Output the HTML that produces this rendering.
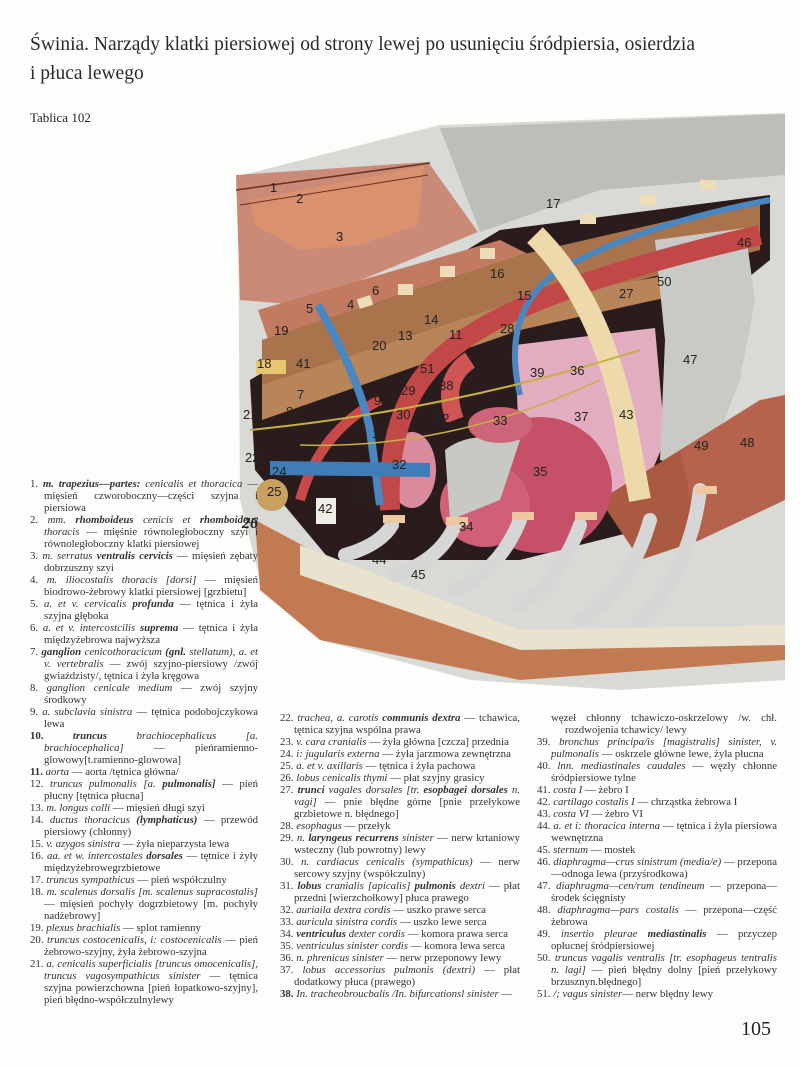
<!DOCTYPE html>
<html lang="pl"><head><meta charset="utf-8"><style>
body{margin:0;background:#fff;}
#pg{position:relative;width:800px;height:1067px;overflow:hidden;background:#fdfdfb;font-family:"Liberation Serif",serif;color:#222;}
.t{position:absolute;left:30px;top:30px;font-size:19.5px;line-height:29px;color:#2a2a2a;}
.col{position:absolute;font-size:10.8px;line-height:12px;color:#333;hyphens:auto;-webkit-hyphens:auto;}
.col div{padding-left:14px;text-indent:-14px;text-align:justify;}
.col i{font-style:italic}
svg{position:absolute;left:0;top:0}
.lb{font-family:"Liberation Sans",sans-serif;font-size:13px;fill:#222;}
</style></head><body><div id="pg">
<div class="t">Świnia. Narządy klatki piersiowej od strony lewej po usunięciu śródpiersia, osierdzia<br>i płuca lewego</div>
<div style="position:absolute;left:30px;top:110px;font-size:13px;">Tablica 102</div>
<svg width="800" height="1067" viewBox="0 0 800 1067">
<path d="M238,176 L440,125 L785,113 L785,680 L620,690 L470,680 L320,640 L260,580 L240,500 Z" fill="#d9d9d5"/>
<path d="M440,128 L785,114 L785,175 L600,190 L480,232 Z" fill="#bdbdb9"/>
<path d="M250,380 L500,230 L770,195 L770,260 L720,300 L700,470 L640,530 L520,560 L330,560 L255,470 Z" fill="#2a1c1c"/>
<path d="M236,175 L428,162 L478,232 L300,305 L240,300 Z" fill="#c98a78"/>
<path d="M250,200 L424,166 L418,225 L360,245 L300,250 L255,225 Z" fill="#d9916e"/>
<path d="M236,190 L430,163" stroke="#6a3020" stroke-width="1.5"/>
<path d="M240,205 L428,175" stroke="#6a3020" stroke-width="1"/>
<path d="M258,310 L500,240 L530,255 L270,345 Z" fill="#c27a60"/>
<path d="M262,340 L520,255 L760,200 L760,250 L600,290 L440,340 L262,420 Z" fill="#a9744c"/>
<path d="M262,385 L520,300 L700,270 L700,290 L520,330 L262,420 Z" fill="#b8845a"/>
<g fill="#ecdcb8"><rect x="358" y="297" width="14" height="10" transform="rotate(-18 365 302)"/><rect x="398" y="284" width="15" height="11"/><rect x="440" y="266" width="15" height="11"/><rect x="480" y="248" width="15" height="11"/><rect x="580" y="214" width="16" height="10"/><rect x="640" y="195" width="16" height="10"/><rect x="700" y="180" width="16" height="10"/></g>
<path d="M515,345 L655,328 L665,440 L640,500 L560,520 L520,470 Z" fill="#e2adc0"/>
<path d="M655,240 L745,228 L755,300 L740,380 L705,470 L660,460 L665,340 Z" fill="#c9c9c6"/>
<path d="M680,450 L760,400 L785,395 L785,500 L700,540 L660,540 Z" fill="#b5634c"/>
<path d="M600,500 L680,450 L700,540 L640,560 Z" fill="#a95a40"/>
<ellipse cx="540" cy="485" rx="72" ry="68" fill="#c65068"/>
<ellipse cx="485" cy="505" rx="45" ry="42" fill="#d06078"/>
<path d="M445,450 Q470,430 520,440 L500,500 L450,520 Z" fill="#c8c8c4"/>
<ellipse cx="500" cy="425" rx="32" ry="18" fill="#cd6478"/>
<ellipse cx="412" cy="470" rx="24" ry="38" fill="#d98a9c"/>
<path d="M390,510 Q385,400 450,350 Q520,290 760,235" stroke="#c24848" stroke-width="20" fill="none"/>
<path d="M455,420 Q440,380 470,360" stroke="#cf5555" stroke-width="18" fill="none"/>
<path d="M300,500 Q320,430 380,400" stroke="#c94848" stroke-width="10" fill="none"/>
<path d="M318,305 Q360,380 370,430 L380,505" stroke="#4a86c0" stroke-width="8" fill="none"/>
<path d="M270,468 L430,470" stroke="#3f7db8" stroke-width="14" fill="none"/>
<path d="M520,395 Q500,310 560,270 Q640,225 770,200" stroke="#4a86c0" stroke-width="6" fill="none"/>
<path d="M535,235 Q600,300 625,420 L640,500" stroke="#eed9aa" stroke-width="22" fill="none"/>
<path d="M250,430 Q450,410 640,350" stroke="#c8b040" stroke-width="2" fill="none"/>
<path d="M300,445 Q450,450 600,380" stroke="#c8b040" stroke-width="1.5" fill="none"/>
<path d="M255,520 L330,560 L520,640 L785,640 L785,660 L520,680 L320,640 L260,590 Z" fill="#c27a52"/>
<path d="M300,545 L520,630 L785,625 L785,645 L520,650 L300,575 Z" fill="#e9e2cf"/>
<g stroke="#d6d6d6" stroke-width="14" fill="none" stroke-linecap="round">
<path d="M392,525 Q380,545 345,555"/><path d="M455,525 Q440,560 395,575"/><path d="M520,520 Q500,570 455,590"/><path d="M580,525 Q560,580 520,605"/><path d="M650,520 Q630,590 580,620"/><path d="M700,490 Q690,570 640,620"/></g>
<g fill="#edc8a0"><rect x="383" y="515" width="22" height="8"/><rect x="446" y="517" width="22" height="8"/><rect x="512" y="512" width="22" height="8"/><rect x="575" y="512" width="22" height="8"/><rect x="695" y="486" width="22" height="8"/></g>
<rect x="316" y="498" width="20" height="26" fill="#f0eee6"/>
<circle cx="272" cy="495" r="16" fill="#c8a060"/>
<rect x="256" y="360" width="30" height="14" fill="#e6c670"/>
<g class="lb">
<text x="270" y="192">1</text><text x="296" y="203">2</text><text x="336" y="241">3</text><text x="546" y="208">17</text><text x="737" y="247">46</text>
<text x="490" y="278">16</text><text x="517" y="300">15</text><text x="619" y="298">27</text><text x="657" y="286">50</text>
<text x="306" y="313">5</text><text x="372" y="295">6</text><text x="347" y="309">4</text><text x="274" y="335">19</text><text x="398" y="340">13</text>
<text x="424" y="324">14</text><text x="500" y="333">28</text><text x="546" y="339">40</text><text x="372" y="350">20</text><text x="449" y="339">11</text>
<text x="257" y="368">18</text><text x="296" y="368">41</text><text x="420" y="373">51</text><text x="683" y="364">47</text><text x="530" y="377">39</text>
<text x="570" y="375">36</text><text x="439" y="390">38</text><text x="297" y="399">7</text><text x="401" y="395">29</text><text x="374" y="405">9</text>
<text x="286" y="416">8</text><text x="396" y="419">30</text><text x="435" y="423">12</text><text x="493" y="425">33</text><text x="574" y="421">37</text>
<text x="619" y="419">43</text><text x="243" y="419">21</text><text x="372" y="438">10</text><text x="694" y="450">49</text><text x="740" y="447">48</text>
<text x="245" y="462">22</text><text x="392" y="469">32</text><text x="533" y="476">35</text><text x="272" y="476">24</text><text x="359" y="485">23</text>
<text x="267" y="496">25</text><text x="357" y="502">31</text><text x="318" y="513">42</text><text x="459" y="531">34</text><text x="372" y="564">44</text><text x="411" y="579">45</text>
</g>
<text x="242" y="528" font-family="Liberation Serif,serif" font-style="italic" font-weight="bold" font-size="16" fill="#222">26</text>
</svg>
<div class="col" style="left:30px;top:478px;width:228px;">
<div>1. <i><b>m. trapezius—partes:</b> cenicalis et thoracica</i> — mięsień czworoboczny—części szyjna i piersiowa</div>
<div>2. <i>mm. <b>rhomboideus</b> cenicis et <b>rhomboideus</b> thoracis</i> — mięśnie równoległoboczny szyi i równoległoboczny klatki piersiowej</div>
<div>3. <i>m. serratus <b>ventralis cervicis</b></i> — mięsień zębaty dobrzuszny szyi</div>
<div>4. <i>m. iliocostalis thoracis [dorsi]</i> — mięsień biodrowo-żebrowy klatki piersiowej [grzbietu]</div>
<div>5. <i>a. et v. cervicalis <b>profunda</b></i> — tętnica i żyła szyjna głęboka</div>
<div>6. <i>a. et v. intercostcilis <b>suprema</b></i> — tętnica i żyła międzyżebrowa najwyższa</div>
<div>7. <i><b>ganglion</b> cenicothoracicum <b>(gnl.</b> stellatum), a. et v. vertebralis</i> — zwój szyjno-piersiowy /zwój gwiaździsty/, tętnica i żyła kręgowa</div>
<div>8. <i>ganglion cenicale medium</i> — zwój szyjny środkowy</div>
<div>9. <i>a. subclavia sinistra</i> — tętnica podobojczykowa lewa</div>
<div><b>10.</b> <i><b>truncus</b> brachiocephalicus [a. brachiocephalica]</i> — pieńramienno-glowowy[t.ramienno-glowowa]</div>
<div><b>11.</b> <i>aorta</i> — aorta /tętnica główna/</div>
<div>12. <i>truncus pulmonalis [a. <b>pulmonalis]</b></i> — pień płucny [tętnica płucna]</div>
<div>13. <i>m. longus colli</i> — mięsień długi szyi</div>
<div>14. <i>ductus thoracicus <b>(lymphaticus)</b></i> — przewód piersiowy (chłonny)</div>
<div>15. <i>v. azygos sinistra</i> — żyła nieparzysta lewa</div>
<div>16. <i>aa. et w. intercostales <b>dorsales</b></i> — tętnice i żyły międzyżebrowegrzbietowe</div>
<div>17. <i>truncus sympathicus</i> — pień współczulny</div>
<div>18. <i>m. scalenus dorsalis [m. scalenus supracostalis]</i> — mięsień pochyły dogrzbietowy [m. pochyły nadżebrowy]</div>
<div>19. <i>plexus brachialis</i> — splot ramienny</div>
<div>20. <i>truncus costocenicalis, i: costocenicalis</i> — pień żebrowo-szyjny, żyła żebrowo-szyjna</div>
<div>21. <i>a. cenicalis superficialis [truncus omocenicalis], truncus vagosympathicus sinister</i> — tętnica szyjna powierzchowna [pień łopatkowo-szyjny], pień błędno-współczulnylewy</div>
</div>
<div class="col" style="left:280px;top:712px;width:240px;">
<div>22. <i>trachea, a. carotis <b>communis dextra</b></i> — tchawica, tętnica szyjna wspólna prawa</div>
<div>23. <i>v. cara cranialis</i> — żyła główna [czcza] przednia</div>
<div>24. <i>i: jugularis externa</i> — żyła jarzmowa zewnętrzna</div>
<div>25. <i>a. et v. axillaris</i> — tętnica i żyła pachowa</div>
<div>26. <i>lobus cenicalis thymi</i> — płat szyjny grasicy</div>
<div>27. <i><b>trunci</b> vagales dorsales [tr. <b>esopbagei dorsales</b> n. vagi]</i> — pnie błędne górne [pnie przełykowe grzbietowe n. błędnego]</div>
<div>28. <i>esophagus</i> — przełyk</div>
<div>29. <i>n. <b>laryngeus recurrens</b> sinister</i> — nerw krtaniowy wsteczny (lub powrotny) lewy</div>
<div>30. <i>n. cardiacus cenicalis (sympathicus)</i> — nerw sercowy szyjny (współczulny)</div>
<div>31. <i><b>lobus</b> cranialis [apicalis] <b>pulmonis</b> dextri</i> — płat przedni [wierzchołkowy] płuca prawego</div>
<div>32. <i>auriaila dextra cordis</i> — uszko prawe serca</div>
<div>33. <i>auricula sinistra cordis</i> — uszko lewe serca</div>
<div>34. <i><b>ventriculus</b> dexter cordis</i> — komora prawa serca</div>
<div>35. <i>ventriculus sinister cordis</i> — komora lewa serca</div>
<div>36. <i>n. phrenicus sinister</i> — nerw przeponowy lewy</div>
<div>37. <i>lobus accessorius pulmonis (dextri)</i> — płat dodatkowy płuca (prawego)</div>
<div><b>38.</b> <i>In. tracheobroucbalis /In. bifurcationsl sinister</i> —</div>
</div>
<div class="col" style="left:537px;top:712px;width:240px;">
<div style="padding-left:28px">węzeł chłonny tchawiczo-oskrzelowy /w. chł. rozdwojenia tchawicy/ lewy</div>
<div>39. <i>bronchus principa/is [magistralis] sinister, v. pulmonalis</i> — oskrzele główne lewe, żyła płucna</div>
<div>40. <i>lnn. mediastinales caudales</i> — węzły chłonne śródpiersiowe tylne</div>
<div>41. <i>costa I</i> — żebro I</div>
<div>42. <i>cartilago costalis I</i> — chrząstka żebrowa I</div>
<div>43. <i>costa VI</i> — żebro VI</div>
<div>44. <i>a. et i: thoracica interna</i> — tętnica i żyła piersiowa wewnętrzna</div>
<div>45. <i>sternum</i> — mostek</div>
<div>46. <i>diaphragma—crus sinistrum (media/e)</i> — przepona—odnoga lewa (przyśrodkowa)</div>
<div>47. <i>diaphragma—cen/rum tendineum</i> — przepona—środek ścięgnisty</div>
<div>48. <i>diaphragma—pars costalis</i> — przepona—część żebrowa</div>
<div>49. <i>insertio pleurae <b>mediastinalis</b></i> — przyczep opłucnej śródpiersiowej</div>
<div>50. <i>truncus vagalis ventralis [tr. esophageus tentralis n. lagi]</i> — pień błędny dolny [pień przełykowy brzusznyn.błędnego]</div>
<div>51. <i>/; vagus sinister</i>— nerw błędny lewy</div>
</div>
<div style="position:absolute;left:741px;top:1018px;font-size:20px;">105</div>
</div></body></html>
